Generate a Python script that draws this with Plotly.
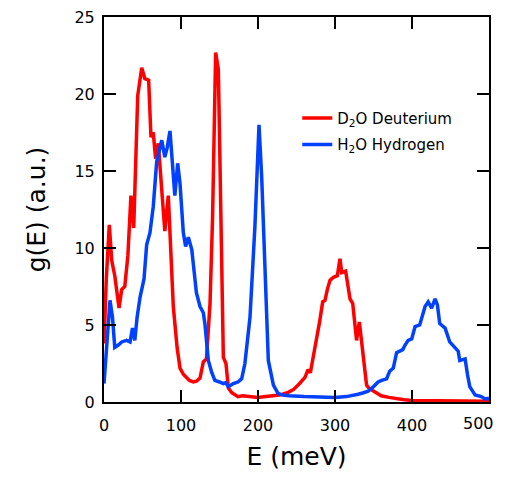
import plotly.graph_objects as go

# D2O Deuterium
d2o_E = [0, 3, 6.9, 10, 14, 19.5, 23, 27, 31, 35, 38.6, 43.8, 49, 53, 58, 61, 64, 67, 70.5, 75, 79, 83.5,
         90, 95, 98.7, 103, 107, 111, 116, 120, 124.7, 129, 133, 137.7, 141, 145, 148.5, 152, 155, 158.4,
         161.5, 166, 170, 174, 180, 190, 200, 210, 220, 228, 238, 246, 254, 261, 265, 268, 272, 276, 280,
         284, 287, 290, 293.5, 298, 303, 306.5, 308.7, 313.8, 317, 319.5, 323, 326, 328, 331.6, 334.6, 338,
         341, 344, 347.6, 354, 360, 370, 380, 390, 400, 420, 440, 460, 480, 500]
d2o_g = [3.8, 8, 11.5, 9.2, 8.2, 6.1, 7.3, 7.5, 9.5, 13.4, 11.3, 19.9, 21.7, 21.0, 20.9, 17.2, 17.5, 15.8, 16.8,
         13.5, 11.1, 13.4, 6.2, 3.5, 2.2, 1.8, 1.6, 1.4, 1.3, 1.35, 1.55, 2.6, 2.8, 6.4, 12, 22.7, 21.6, 12,
         2.9, 2.5, 0.9, 0.6, 0.45, 0.35, 0.4, 0.35, 0.3, 0.35, 0.4, 0.45, 0.6, 0.8, 1.2, 1.6, 2.1, 1.9, 3.0,
         4.0, 5.2, 6.5, 6.6, 7.3, 7.9, 8.1, 8.2, 9.3, 8.4, 8.5, 7.5, 6.7, 6.4, 5.0, 4.0, 5.2, 3.8, 2.2, 1.1,
         0.9, 0.8, 0.56, 0.4, 0.3, 0.2, 0.15, 0.1, 0.08, 0.06, 0.05, 0.05, 0.05]

# H2O Hydrogen
h2o_E = [0, 3, 5.5, 7.8, 11, 14, 18.6, 23, 29.4, 33.8, 37, 40, 43, 46.8, 52, 55.4, 59.7, 64, 68.4, 72.7, 75,
         79, 82, 85.7, 90, 92, 95.7, 98.7, 103, 106, 109.5, 114, 117, 120, 124.7, 129, 131, 135.5, 140, 144,
         150, 155, 158, 161.5, 165, 168, 174, 178.8, 183, 189.6, 196, 201.3, 204.8, 209, 213.4, 220, 226,
         232, 240, 260, 280, 300, 315, 323, 330, 337, 343, 350, 356, 360.6, 367, 371, 375.7, 380, 384, 388,
         391, 395, 399.6, 404, 410, 413, 417, 421, 425.5, 430, 433, 436, 443, 449, 456, 460, 462, 469, 472,
         475, 482, 490, 495, 500]
h2o_g = [1.2, 3.5, 5.5, 6.6, 5.5, 3.55, 3.7, 3.9, 4.0, 3.9, 4.8, 4.0, 5.5, 6.8, 8.0, 10.2, 11.0, 12.7, 15.6,
         16.5, 17.0, 15.9, 16.5, 17.6, 14.2, 13.4, 15.5, 14.2, 11.0, 10.1, 10.7, 9.9, 8.5, 7.1, 6.2, 5.8, 5.1,
         2.7, 1.9, 1.4, 1.3, 1.2, 1.25, 1.0, 1.1, 1.2, 1.3, 1.5, 2.5, 5.5, 11.4, 18.0, 14.6, 8.1, 2.7, 1.1,
         0.56, 0.45, 0.4, 0.35, 0.3, 0.3, 0.35, 0.4, 0.5, 0.6, 0.7, 1.0, 1.3, 1.4, 1.5, 2.0, 2.2, 3.2, 3.3,
         3.4, 3.7, 4.0, 4.1, 4.9, 5.0, 5.6, 6.2, 6.5, 6.1, 6.7, 6.3, 5.1, 4.8, 3.9, 3.5, 3.3, 2.7, 2.8, 1.8,
         1.0, 0.45, 0.35, 0.2, 0.25]

x_ticks = [0, 100, 200, 300, 400, 500]
x_tick_labels = ["0", "100", "200", "300", "400", "500"]
y_ticks = [0, 5, 10, 15, 20, 25]

FONT = "DejaVu Sans"

fig = go.Figure()
fig.add_trace(go.Scatter(x=d2o_E, y=d2o_g, mode="lines", name="D<sub>2</sub>O Deuterium",
                         line=dict(color="rgb(255,0,0)", width=3.5), legendgroup="a"))
fig.add_trace(go.Scatter(x=h2o_E, y=h2o_g, mode="lines", name="H<sub>2</sub>O Hydrogen",
                         line=dict(color="rgb(0,64,255)", width=3.5), legendgroup="b"))

axis_common = dict(showline=True, linecolor="black", linewidth=2, mirror="ticks",
                   ticks="inside", ticklen=12, tickwidth=2, tickcolor="black",
                   showgrid=False, zeroline=False, automargin=False,
                   ticklabeloverflow="allow",
                   tickfont=dict(family=FONT, size=16, color="black"))

# last x label is drawn as an annotation nudged left so it is not clipped at the window edge
fig.update_xaxes(range=[0, 500], tickvals=x_ticks, ticktext=x_tick_labels[:-1] + [""],
                 ticklabelstandoff=8,
                 title=dict(text="E (meV)", font=dict(family=FONT, size=25, color="black"), standoff=22),
                 **axis_common)
fig.update_yaxes(range=[0, 25], tickvals=y_ticks, ticklabelstandoff=4,
                 title=dict(text="g(E) (a.u.)", font=dict(family=FONT, size=25, color="black"), standoff=22),
                 **axis_common)

fig.add_annotation(x=x_ticks[-1], y=0, xref="x", yref="paper", text=x_tick_labels[-1],
                   showarrow=False, xanchor="right", yanchor="top", xshift=7, yshift=-10,
                   font=dict(family=FONT, size=16, color="black"))

# page has an 8px body margin, so the figure is sized to fit the 506x479 window
fig.update_layout(
    width=498, height=463,
    margin=dict(l=96, r=17, t=9, b=69),
    plot_bgcolor="white", paper_bgcolor="white",
    font=dict(family=FONT, color="black"),
    legend=dict(x=0.502, y=0.78, xanchor="left", yanchor="top",
                font=dict(family=FONT, size=15, color="black"),
                bgcolor="rgba(0,0,0,0)", tracegroupgap=4),
    showlegend=True,
)

fig.write_html("out.html")
